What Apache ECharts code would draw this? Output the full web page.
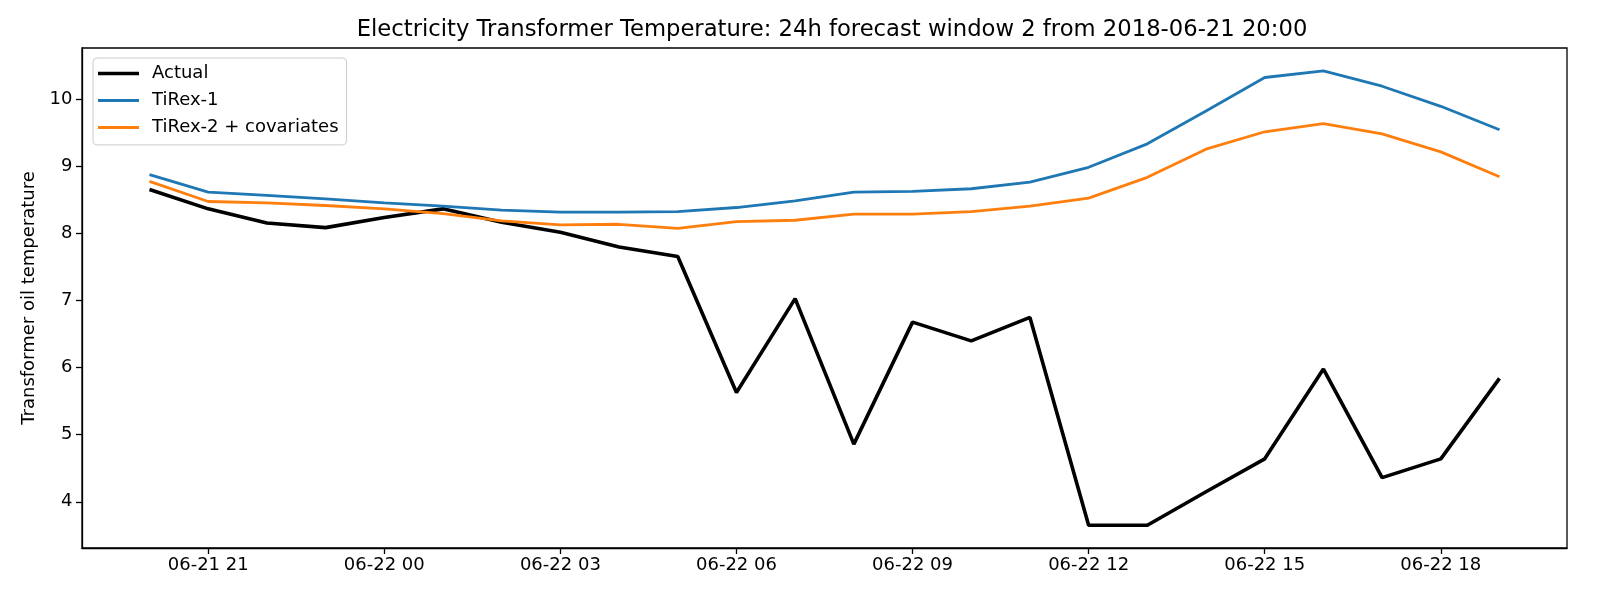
<!DOCTYPE html>
<html>
<head>
<meta charset="utf-8">
<script src="https://cdn.jsdelivr.net/npm/echarts@6/dist/echarts.min.js"></script>
<style>html,body{margin:0;padding:0;background:#fff}#c{width:1600px;height:600px}</style>
</head>
<body>
<div id="c"></div>
<script>
const times = ['2018-06-21 20:00','2018-06-21 21:00','2018-06-21 22:00','2018-06-21 23:00',
  '2018-06-22 00:00','2018-06-22 01:00','2018-06-22 02:00','2018-06-22 03:00',
  '2018-06-22 04:00','2018-06-22 05:00','2018-06-22 06:00','2018-06-22 07:00',
  '2018-06-22 08:00','2018-06-22 09:00','2018-06-22 10:00','2018-06-22 11:00',
  '2018-06-22 12:00','2018-06-22 13:00','2018-06-22 14:00','2018-06-22 15:00',
  '2018-06-22 16:00','2018-06-22 17:00','2018-06-22 18:00','2018-06-22 19:00'];
const actual = [8.66,8.37,8.16,8.09,8.24,8.37,8.17,8.02,7.80,7.66,5.63,7.03,
  4.86,6.68,6.40,6.75,3.65,3.65,4.15,4.64,5.98,4.36,4.64,5.84];
const tirex1 = [8.88,8.62,8.57,8.52,8.46,8.41,8.35,8.32,8.32,8.33,8.39,8.49,
  8.62,8.63,8.67,8.77,8.99,9.34,9.83,10.33,10.43,10.20,9.90,9.55];
const tirex2 = [8.78,8.48,8.46,8.42,8.37,8.30,8.19,8.13,8.14,8.08,8.18,8.20,
  8.29,8.29,8.33,8.41,8.53,8.84,9.26,9.52,9.64,9.49,9.22,8.85];
const xTickTimes = ['2018-06-21 21:00','2018-06-22 00:00','2018-06-22 03:00','2018-06-22 06:00',
  '2018-06-22 09:00','2018-06-22 12:00','2018-06-22 15:00','2018-06-22 18:00'];
const yTicks = [4,5,6,7,8,9,10];
const xRange = ['2018-06-21 18:51','2018-06-22 20:09'];
const yRange = [3.31,10.77];

function ts(s){
  const m = s.match(/(\d+)-(\d+)-(\d+) (\d+):(\d+)/);
  return new Date(+m[1], +m[2]-1, +m[3], +m[4], +m[5]).getTime();
}
function pad(n){return (n<10?'0':'')+n;}
function fmt(v){
  const d = new Date(v);
  return pad(d.getMonth()+1)+'-'+pad(d.getDate())+' '+pad(d.getHours());
}
const font = 'DejaVu Sans';
const pairs = arr => arr.map((v,i)=>[ts(times[i]), v]);
const lw = {actual:3.6, fc:2.8};
const legendIcon = w => 'path://M0 0H41V' + w + 'H0Z';

const chart = echarts.init(document.getElementById('c'), null, {renderer:'canvas'});
chart.setOption({
  animation:false,
  backgroundColor:'#fff',
  title:{
    text:'Electricity Transformer Temperature: 24h forecast window 2 from 2018-06-21 20:00',
    left:832, top:19, textAlign:'center', padding:0,
    textStyle:{fontFamily:font, fontSize:22.7, fontWeight:'normal', color:'#000'}
  },
  legend:{
    orient:'vertical', left:93, top:58,
    padding:[6.5,8,8.4,5],
    itemWidth:41, itemHeight:14, itemGap:9,
    symbolKeepAspect:true,
    borderColor:'#cccccc', borderWidth:1, borderRadius:4,
    backgroundColor:'rgba(255,255,255,0.8)',
    textStyle:{fontFamily:font, fontSize:18, lineHeight:18, color:'#000', padding:[0,0,0,8]},
    data:[
      {name:'Actual', icon:legendIcon(lw.actual)},
      {name:'TiRex-1', icon:legendIcon(lw.fc)},
      {name:'TiRex-2 + covariates', icon:legendIcon(lw.fc)}
    ]
  },
  grid:{left:82, right:33, top:48, bottom:52, show:true, borderColor:'#000', borderWidth:1.3, backgroundColor:'transparent'},
  xAxis:{
    type:'value', min:ts(xRange[0]), max:ts(xRange[1]), scale:true,
    axisLine:{show:true, lineStyle:{color:'#000', width:1.3}},
    axisTick:{show:true, length:6, lineStyle:{color:'#000', width:1.3}, customValues:xTickTimes.map(ts)},
    axisLabel:{fontFamily:font, fontSize:18, color:'#000', margin:8, customValues:xTickTimes.map(ts), formatter:fmt, hideOverlap:false},
    splitLine:{show:false}
  },
  yAxis:{
    type:'value', min:yRange[0], max:yRange[1],
    name:'Transformer oil temperature', nameLocation:'middle', nameGap:39,
    nameTextStyle:{fontFamily:font, fontSize:18, color:'#000'},
    axisLine:{show:true, lineStyle:{color:'#000', width:1.3}},
    axisTick:{show:true, length:6, lineStyle:{color:'#000', width:1.3}, customValues:yTicks},
    axisLabel:{fontFamily:font, fontSize:18, color:'#000', margin:9.5, customValues:yTicks},
    splitLine:{show:false}
  },
  series:[
    {name:'Actual', type:'line', data:pairs(actual), symbol:'none', lineStyle:{color:'#000000', width:lw.actual}, itemStyle:{color:'#000000'}, z:3},
    {name:'TiRex-1', type:'line', data:pairs(tirex1), symbol:'none', lineStyle:{color:'#1f77b4', width:lw.fc}, itemStyle:{color:'#1f77b4'}, z:4},
    {name:'TiRex-2 + covariates', type:'line', data:pairs(tirex2), symbol:'none', lineStyle:{color:'#ff7f0e', width:lw.fc}, itemStyle:{color:'#ff7f0e'}, z:5}
  ]
});
</script>
</body>
</html>
